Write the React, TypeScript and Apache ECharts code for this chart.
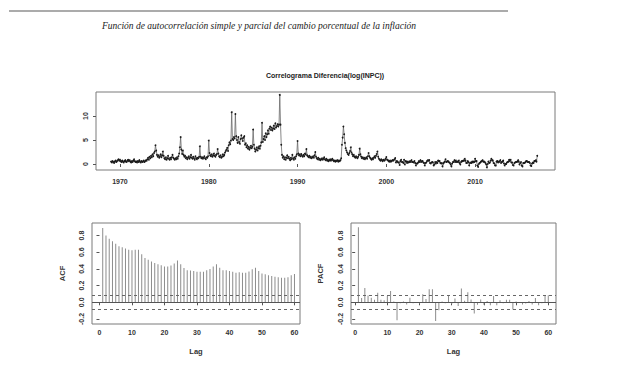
import React, { useEffect, useRef } from "react";
import * as echarts from "echarts";

const pageTitle = "Función de autocorrelación simple y parcial del cambio porcentual de la inflación";
const plotTitle = "Correlograma Diferencia(log(INPC))";

const startYear = 1969;
// monthly % change of INPC, one row per year (1969 .. 2016), then Jan 2017
const inflationRows: number[][] = [
  [0.5, 0.3, 0.6, 0.4, 0.2, 0.5, 0.7, 0.4, 0.6, 0.8, 1.0, 0.7],
  [0.9, 0.6, 0.4, 0.7, 0.5, 0.3, 0.6, 0.8, 0.5, 0.4, 0.7, 0.9],
  [0.6, 0.8, 0.5, 0.3, 0.6, 0.4, 0.7, 1.0, 0.6, 0.4, 0.5, 0.3],
  [0.6, 0.4, 0.8, 0.5, 0.3, 0.6, 0.4, 0.5, 0.7, 0.4, 0.6, 0.8],
  [0.7, 1.0, 1.3, 0.9, 1.5, 1.2, 1.7, 1.4, 2.0, 1.6, 2.3, 2.6],
  [3.9, 2.8, 1.9, 1.5, 1.8, 1.3, 1.6, 2.0, 1.4, 1.8, 2.6, 1.7],
  [1.2, 1.0, 1.4, 0.9, 1.2, 1.7, 1.1, 0.9, 1.3, 1.0, 1.4, 1.9],
  [1.3, 1.1, 0.9, 1.2, 1.0, 1.4, 1.1, 1.6, 2.2, 3.5, 5.6, 3.0],
  [2.1, 2.8, 1.9, 1.5, 1.7, 1.2, 1.4, 1.0, 1.3, 1.6, 1.1, 1.4],
  [1.9, 1.3, 1.1, 1.5, 1.2, 0.9, 1.6, 1.2, 1.0, 1.3, 1.2, 1.5],
  [3.7, 1.5, 1.2, 1.4, 1.1, 1.3, 1.6, 1.2, 1.0, 1.4, 1.3, 1.6],
  [4.9, 2.3, 1.8, 1.6, 2.0, 1.5, 1.8, 2.2, 1.7, 1.5, 1.9, 2.1],
  [3.1, 2.2, 1.6, 1.4, 1.8, 1.3, 1.5, 2.0, 1.6, 1.9, 2.4, 2.7],
  [3.0, 3.4, 2.7, 3.9, 4.5, 4.1, 4.9, 10.8, 5.2, 5.0, 5.6, 5.3],
  [10.4, 5.8, 5.0, 4.4, 5.6, 4.6, 4.2, 5.2, 6.0, 5.3, 4.8, 5.5],
  [5.8, 4.0, 4.3, 3.5, 3.9, 3.2, 3.6, 3.0, 3.4, 3.8, 3.3, 3.6],
  [7.2, 4.0, 3.2, 2.6, 3.0, 3.5, 2.8, 3.3, 3.7, 3.2, 3.8, 4.5],
  [8.6, 4.6, 5.2, 5.8, 5.0, 6.4, 5.6, 6.2, 7.0, 6.3, 7.4, 7.8],
  [7.1, 7.6, 7.0, 7.4, 8.0, 7.3, 8.5, 7.6, 7.9, 8.3, 7.8, 8.2],
  [14.4, 8.2, 4.0, 1.9, 1.3, 1.6, 1.0, 1.4, 0.9, 1.3, 1.8, 1.2],
  [1.5, 1.1, 0.8, 1.3, 1.0, 1.9, 1.2, 0.9, 1.4, 1.1, 1.6, 2.0],
  [4.8, 2.2, 1.8, 2.0, 1.6, 2.1, 1.7, 1.5, 1.9, 1.6, 2.2, 2.0],
  [3.1, 1.8, 1.6, 1.4, 1.7, 1.3, 1.5, 1.2, 1.4, 1.6, 1.3, 1.8],
  [2.5, 1.5, 1.2, 1.0, 1.3, 0.9, 1.1, 0.8, 1.0, 1.2, 0.9, 1.1],
  [1.4, 1.0, 0.8, 1.1, 0.7, 0.9, 0.6, 0.8, 1.0, 0.7, 0.9, 1.1],
  [0.8, 0.6, 0.7, 0.5, 0.7, 0.6, 0.8, 0.5, 0.7, 0.6, 0.8, 1.2],
  [4.0, 5.5, 7.8, 6.2, 4.4, 3.3, 2.8, 2.4, 2.1, 1.9, 2.3, 2.7],
  [3.5, 2.4, 2.0, 1.6, 1.9, 1.5, 1.3, 1.6, 1.4, 1.2, 1.5, 1.9],
  [3.2, 2.0, 1.5, 1.2, 1.4, 1.1, 1.3, 1.0, 1.2, 1.4, 1.1, 1.6],
  [2.3, 1.6, 1.3, 1.1, 0.9, 1.2, 1.0, 1.3, 1.6, 1.3, 1.7, 2.1],
  [2.6, 1.5, 1.1, 0.9, 0.7, 1.0, 0.8, 0.6, 0.9, 0.7, 0.8, 1.1],
  [1.45, 0.9, 0.8, 0.6, 0.5, 0.7, 0.5, 0.6, 0.8, 0.7, 0.8, 1.0],
  [1.25, 0.3, 0.6, 0.5, 0.3, 0.3, -0.2, 0.6, 0.9, 0.4, 0.4, 0.2],
  [0.9, -0.1, 0.6, 0.5, 0.2, 0.5, 0.3, 0.4, 0.6, 0.4, 0.8, 0.4],
  [0.4, 0.3, 0.6, 0.2, -0.3, 0.1, 0.1, 0.3, 0.6, 0.4, 0.8, 0.4],
  [0.6, 0.6, 0.3, 0.2, -0.3, 0.2, 0.3, 0.6, 0.8, 0.7, 0.8, 0.2],
  [0.1, 0.3, 0.4, 0.3, -0.3, -0.1, 0.4, 0.1, 0.4, 0.2, 0.7, 0.6],
  [0.6, 0.2, 0.1, 0.2, -0.5, 0.1, 0.3, 0.5, 1.0, 0.4, 0.5, 0.6],
  [0.5, 0.3, 0.2, -0.1, -0.5, 0.1, 0.4, 0.4, 0.8, 0.4, 0.7, 0.4],
  [0.5, 0.4, 0.7, 0.2, -0.1, 0.4, 0.6, 0.6, 0.7, 0.7, 1.1, 0.7],
  [0.2, 0.2, 0.6, 0.4, -0.3, 0.2, 0.3, 0.2, 0.5, 0.3, 0.5, 0.4],
  [1.1, 0.6, 0.6, -0.3, -0.6, 0.0, 0.2, 0.3, 0.5, 0.6, 0.8, 0.5],
  [0.5, 0.4, 0.2, -0.1, -0.7, 0.0, 0.5, 0.2, 0.3, 0.7, 1.1, 0.8],
  [0.7, 0.2, 0.1, -0.3, -0.3, 0.5, 0.6, 0.3, 0.5, 0.5, 0.8, 0.2],
  [0.4, 0.5, 0.7, 0.1, -0.3, 0.0, 0.0, 0.3, 0.4, 0.5, 0.9, 0.6],
  [0.9, 0.3, 0.3, -0.2, -0.3, 0.2, 0.3, 0.4, 0.4, 0.5, 0.8, 0.5],
  [-0.1, 0.2, 0.4, -0.3, -0.5, 0.2, 0.2, 0.2, 0.4, 0.6, 0.6, 0.4],
  [0.4, 0.4, 0.2, -0.3, -0.4, 0.1, 0.3, 0.2, 0.6, 0.6, 0.8, 0.5],
  [1.7],
];

const yearTicks = [1970, 1980, 1990, 2000, 2010];
const levelTicks = [0, 5, 10];

const acfValues = [
  0.89, 0.8, 0.76, 0.73, 0.7, 0.67, 0.66, 0.645, 0.63, 0.625,
  0.63, 0.63, 0.575, 0.53, 0.51, 0.49, 0.47, 0.455, 0.445, 0.43,
  0.43, 0.44, 0.465, 0.5, 0.455, 0.41, 0.385, 0.38, 0.375, 0.365,
  0.365, 0.365, 0.385, 0.4, 0.43, 0.455, 0.415, 0.385, 0.385, 0.375,
  0.365, 0.355, 0.36, 0.355, 0.355, 0.37, 0.395, 0.415, 0.375, 0.345,
  0.335, 0.325, 0.315, 0.305, 0.3, 0.295, 0.295, 0.3, 0.325, 0.34,
];

const pacfValues = [
  0.9, 0.05, 0.17, 0.08, 0.055, 0.03, 0.115, 0.03, 0.025, 0.075,
  0.135, 0.01, -0.215, -0.01, 0.01, -0.025, 0.055, -0.01, 0.005, -0.015,
  0.095, 0.04, 0.155, 0.155, -0.225, -0.095, 0.01, -0.01, 0.085, -0.02,
  0.045, -0.045, 0.165, 0.02, 0.12, 0.035, -0.135, -0.03, 0.035, -0.03,
  0.015, -0.035, 0.075, -0.035, 0.025, -0.01, 0.03, 0.03, -0.085, 0.01,
  0.003, -0.025, -0.015, 0.015, -0.025, 0.05, -0.035, -0.01, 0.085, 0.085,
];

const ciBound = 0.0833;
const corrTicks = [-0.2, 0, 0.2, 0.4, 0.6, 0.8];
const lagTicks = [0, 10, 20, 30, 40, 50, 60];

const FONT = "'Liberation Sans', Arial, sans-serif";
const boxColor = "#7a7a7a";
const labelStyle = { fontSize: 7, fontWeight: "bold" as const, color: "#333", fontFamily: FONT };

export default function App() {
  const ref = useRef<HTMLDivElement>(null);

  useEffect(() => {
    if (!ref.current) return;
    const chart = echarts.init(ref.current, undefined, { renderer: "svg" });

    const seriesPoints: number[][] = [];
    inflationRows.forEach((row, yi) => {
      row.forEach((v, mi) => {
        seriesPoints.push([startYear + yi + mi / 12, v]);
      });
    });
    const acfPoints = acfValues.map((v, i) => [i + 1, v]);
    const pacfPoints = pacfValues.map((v, i) => [i + 1, v]);

    const refLines = {
      silent: true,
      symbol: "none",
      label: { show: false },
      data: [
        { yAxis: 0, lineStyle: { type: "solid", color: "#555", width: 1 } },
        { yAxis: ciBound, lineStyle: { type: [3, 3], color: "#666", width: 1 } },
        { yAxis: -ciBound, lineStyle: { type: [3, 3], color: "#666", width: 1 } },
      ],
    };

    const corrY = (gridIndex: number, name: string, gap: number, max: number) => ({
      type: "value",
      gridIndex,
      min: -0.26,
      max,
      name,
      nameLocation: "middle",
      nameGap: gap,
      nameRotate: 90,
      nameTextStyle: { fontSize: 7.5, fontWeight: "bold", color: "#333", fontFamily: FONT },
      axisLine: { show: false },
      splitLine: { show: false },
      axisTick: { show: true, length: 3, customValues: corrTicks, lineStyle: { color: "#555" } },
      axisLabel: {
        ...labelStyle,
        rotate: 90,
        margin: 7,
        customValues: corrTicks,
        formatter: (v: number) => v.toFixed(1),
      },
    });

    const lagX = (gridIndex: number, min: number, max: number) => ({
      type: "value",
      gridIndex,
      min,
      max,
      name: "Lag",
      nameLocation: "middle",
      nameGap: 23,
      nameTextStyle: { fontSize: 7.5, fontWeight: "bold", color: "#333", fontFamily: FONT },
      axisLine: { show: false },
      splitLine: { show: false },
      axisTick: { show: true, length: 3, customValues: lagTicks, lineStyle: { color: "#555" } },
      axisLabel: { ...labelStyle, margin: 5, customValues: lagTicks, formatter: (v: number) => String(v) },
    });

    chart.setOption({
      animation: false,
      backgroundColor: "#ffffff",
      graphic: [
        {
          type: "line",
          shape: { x1: 9, y1: 11, x2: 508, y2: 11 },
          style: { stroke: "#8f8f8f", lineWidth: 1.5 },
        },
        {
          type: "text",
          x: 259,
          y: 26,
          style: {
            text: pageTitle,
            fill: "#222",
            font: "italic 9.5px 'Liberation Serif', 'DejaVu Serif', serif",
            textAlign: "center",
            textVerticalAlign: "middle",
          },
        },
        {
          type: "text",
          x: 325,
          y: 75,
          style: {
            text: plotTitle,
            fill: "#222",
            font: "bold 7px 'Liberation Sans', Arial, sans-serif",
            textAlign: "center",
            textVerticalAlign: "middle",
          },
        },
      ],
      grid: [
        { left: 96, top: 92, width: 459, height: 78, show: true, borderColor: boxColor, borderWidth: 1 },
        { left: 92, top: 223, width: 208, height: 101, show: true, borderColor: boxColor, borderWidth: 1 },
        { left: 351, top: 223, width: 205, height: 101, show: true, borderColor: boxColor, borderWidth: 1 },
      ],
      xAxis: [
        {
          type: "value",
          gridIndex: 0,
          min: 1967.3,
          max: 2019,
          axisLine: { show: false },
          splitLine: { show: false },
          axisTick: { show: true, length: 3, customValues: yearTicks, lineStyle: { color: "#555" } },
          axisLabel: { ...labelStyle, margin: 8, customValues: yearTicks, formatter: (v: number) => String(v) },
        },
        lagX(1, -2.3, 61.7),
        lagX(2, -1.3, 62.4),
      ],
      yAxis: [
        {
          type: "value",
          gridIndex: 0,
          min: -1.25,
          max: 15,
          axisLine: { show: false },
          splitLine: { show: false },
          axisTick: { show: true, length: 3, customValues: levelTicks, lineStyle: { color: "#555" } },
          axisLabel: { ...labelStyle, rotate: 90, margin: 7, customValues: levelTicks, formatter: (v: number) => String(v) },
        },
        corrY(1, "ACF", 26, 0.95),
        corrY(2, "PACF", 27, 0.95),
      ],
      series: [
        {
          type: "line",
          xAxisIndex: 0,
          yAxisIndex: 0,
          data: seriesPoints,
          showSymbol: true,
          symbol: "circle",
          symbolSize: 1.8,
          itemStyle: { color: "#1a1a1a" },
          lineStyle: { color: "#6a6a6a", width: 0.8 },
          silent: true,
        },
        {
          type: "bar",
          xAxisIndex: 1,
          yAxisIndex: 1,
          data: acfPoints,
          barWidth: 1,
          itemStyle: { color: "#8c8c8c" },
          silent: true,
          markLine: refLines,
        },
        {
          type: "bar",
          xAxisIndex: 2,
          yAxisIndex: 2,
          data: pacfPoints,
          barWidth: 1,
          itemStyle: { color: "#8c8c8c" },
          silent: true,
          markLine: refLines,
        },
      ],
    });

    return () => chart.dispose();
  }, []);

  return (
    <div
      ref={ref}
      style={{ position: "fixed", left: 0, top: 0, width: 640, height: 367, background: "#fff" }}
    />
  );
}
